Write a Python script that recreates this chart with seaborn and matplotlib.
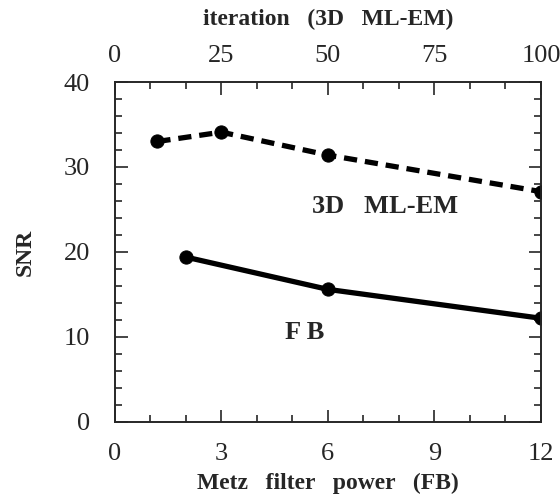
import pandas as pd
import seaborn as sns
import matplotlib
matplotlib.use('Agg')
import matplotlib.pyplot as plt
from matplotlib.ticker import MultipleLocator

# FB curve (bottom axis: Metz filter power)
fb_power = [2, 6, 12]
fb_snr = [19.4, 15.6, 12.2]

# 3D ML-EM curve (top axis: iteration)
em_iteration = [10, 25, 50, 100]
em_snr = [33.0, 34.1, 31.4, 27.1]

sns.set_style('ticks')
plt.rcParams['font.family'] = ['Liberation Serif', 'DejaVu Serif']

fig = plt.figure(figsize=(5.6, 4.97), dpi=100)
ax = fig.add_axes([0.205, 0.151, 0.761, 0.684])

df_fb = pd.DataFrame({'power': fb_power, 'snr': fb_snr})
sns.lineplot(x='power', y='snr', data=df_fb, ax=ax, color='black', linewidth=3.8,
             marker='o', markersize=9.5, markeredgecolor='black')

ax.set_xlim(0, 12)
ax.set_ylim(0, 40)
ax.xaxis.set_major_locator(MultipleLocator(3))
ax.xaxis.set_minor_locator(MultipleLocator(1))
ax.yaxis.set_major_locator(MultipleLocator(10))
ax.yaxis.set_minor_locator(MultipleLocator(2))
ax.tick_params(which='both', direction='in', right=True, labelsize=19)
ax.tick_params(axis='x', pad=15)
ax.tick_params(axis='y', pad=18)
ax.tick_params(which='major', length=9, width=1.2)
ax.tick_params(which='minor', length=5, width=1.2)
ax.set_xlabel('Metz   filter   power   (FB)', fontsize=17, fontweight='bold', labelpad=6)
ax.set_ylabel('SNR', fontsize=17, fontweight='bold', labelpad=20)

# top axis for iterations
ax2 = ax.twiny()
df_em = pd.DataFrame({'iteration': em_iteration, 'snr': em_snr})
sns.lineplot(x='iteration', y='snr', data=df_em, ax=ax2, color='black', linewidth=3.8,
             linestyle=(0, (2.5, 1.5)), marker='o', markersize=9.5, markeredgecolor='black')
ax2.set_xlim(0, 100)
ax2.set_ylim(0, 40)
ax2.xaxis.set_major_locator(MultipleLocator(25))
ax2.xaxis.set_minor_locator(MultipleLocator(100 / 12))
ax2.tick_params(which='both', direction='in', labelsize=19, pad=11)
ax2.tick_params(which='major', length=9, width=1.2)
ax2.tick_params(which='minor', length=5, width=1.2)
ax2.set_xlabel('iteration   (3D   ML-EM)', fontsize=17, fontweight='bold', labelpad=14)

for spine in list(ax.spines.values()) + list(ax2.spines.values()):
    spine.set_linewidth(1.2)

ax.text(7.6, 25.3, '3D   ML-EM', fontsize=19, fontweight='bold', ha='center', va='center')
ax.text(5.35, 10.5, 'F B', fontsize=19, fontweight='bold', ha='center', va='center')

fig.savefig('out.png', dpi=100)
